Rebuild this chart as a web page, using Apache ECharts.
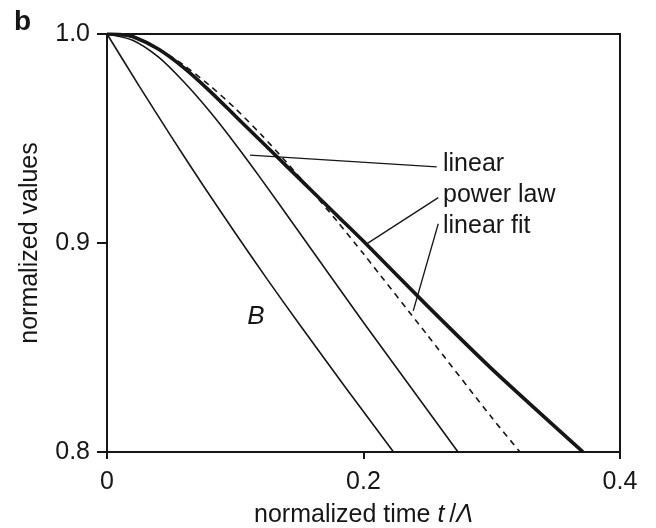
<!DOCTYPE html>
<html>
<head>
<meta charset="utf-8">
<script src="https://cdn.jsdelivr.net/npm/echarts@6/dist/echarts.min.js"></script>
<style>
  html, body { margin: 0; padding: 0; background: #fff; }
  #chart { width: 656px; height: 528px; }
</style>
</head>
<body>
<div id="chart"></div>
<script>
// normalized time t/Λ sample points and the normalized values of each curve
const tB       = [0, 0.025, 0.05, 0.075, 0.10, 0.125, 0.15, 0.1867, 0.2234];
const valsB    = [1.0, 0.9752, 0.951, 0.9275, 0.9048, 0.8826, 0.8611, 0.8303, 0.800];

const tLinear    = [0, 0.02, 0.04, 0.06, 0.08, 0.10, 0.12, 0.15, 0.20, 0.2737];
const valsLinear = [1.0, 0.997, 0.989, 0.977, 0.963, 0.9474, 0.9308, 0.905, 0.862, 0.800];

const tFit    = [0, 0.02, 0.04, 0.06, 0.08, 0.10, 0.12, 0.14, 0.16, 0.18, 0.20, 0.25, 0.30, 0.322];
const valsFit = [1.0, 0.9985, 0.993, 0.985, 0.9754, 0.9644, 0.952, 0.9386, 0.9246, 0.910, 0.8948, 0.8558, 0.8165, 0.800];

const tPower    = [0, 0.01, 0.02, 0.04, 0.06, 0.08, 0.10, 0.12, 0.14, 0.16, 0.18, 0.20, 0.25, 0.30, 0.3712];
const valsPower = [1.0, 0.9998, 0.9988, 0.9928, 0.9838, 0.9728, 0.9608, 0.9488, 0.9368, 0.9248, 0.9128, 0.9008, 0.8698, 0.8398, 0.800];

const xTicks = [0, 0.2, 0.4];
const yTicks = [0.8, 0.9, 1.0];

// curve annotations: label text, label anchor, leader line (data coordinates)
const annotations = [
  { text: 'linear',     at: [0.262, 0.9377], from: [0.2571, 0.9364], to: [0.1115, 0.9420] },
  { text: 'power law',  at: [0.262, 0.9228], from: [0.2583, 0.9217], to: [0.2025, 0.8996] },
  { text: 'linear fit', at: [0.262, 0.9079], from: [0.2583, 0.9092], to: [0.2388, 0.8676] }
];
const curveTag = { text: 'B', at: [0.1162, 0.8647] };

const INK = '#161616';
const FONT = '"Liberation Sans", Arial, Helvetica, sans-serif';

const zip = (xs, ys) => xs.map((x, i) => [x, ys[i]]);

const chart = echarts.init(document.getElementById('chart'), null, { renderer: 'canvas' });

const thin = { color: INK, width: 1.6, type: 'solid' };

chart.setOption({
  animation: false,
  backgroundColor: '#fff',
  title: {
    text: 'b', left: 9, top: 3,
    textStyle: { fontFamily: FONT, fontWeight: 'bold', fontSize: 28, color: INK }
  },
  grid: {
    left: 107, right: 36, top: 34, bottom: 76,
    containLabel: false, outerBoundsMode: 'none',
    show: true, borderColor: INK, borderWidth: 2, backgroundColor: 'transparent'
  },
  xAxis: {
    type: 'value', min: xTicks[0], max: xTicks[xTicks.length - 1], interval: 0.2,
    name: 'normalized time {i|t}\u2009/{i|Λ}',
    nameLocation: 'middle', nameGap: 51,
    nameTextStyle: {
      fontFamily: FONT, fontSize: 25, color: INK,
      rich: { i: { fontFamily: FONT, fontSize: 25, fontStyle: 'italic', color: INK } }
    },
    axisLine: { show: true, lineStyle: { color: INK, width: 2 } },
    axisTick: { show: true, inside: false, length: 7, lineStyle: { color: INK, width: 2 } },
    axisLabel: {
      margin: 18, fontFamily: FONT, fontSize: 25, color: INK,
      formatter: v => (v === 0 ? '0' : v.toFixed(1))
    },
    splitLine: { show: false }
  },
  yAxis: {
    type: 'value', min: yTicks[0], max: yTicks[yTicks.length - 1], interval: 0.1,
    name: 'normalized values',
    nameLocation: 'middle', nameGap: 64,
    nameTextStyle: { fontFamily: FONT, fontSize: 25, color: INK },
    axisLine: { show: true, lineStyle: { color: INK, width: 2 } },
    axisTick: { show: true, inside: false, length: 10, lineStyle: { color: INK, width: 2 } },
    axisLabel: {
      margin: 17, fontFamily: FONT, fontSize: 25, color: INK,
      formatter: v => v.toFixed(1)
    },
    splitLine: { show: false }
  },
  series: [
    { name: 'B', type: 'line', data: zip(tB, valsB), showSymbol: false,
      smooth: 0.25, lineStyle: thin },
    { name: 'linear', type: 'line', data: zip(tLinear, valsLinear), showSymbol: false,
      smooth: 0.25, lineStyle: thin },
    { name: 'linear fit', type: 'line', data: zip(tFit, valsFit), showSymbol: false,
      smooth: 0.25, lineStyle: { color: INK, width: 1.6, type: [6, 5] } },
    { name: 'power law', type: 'line', data: zip(tPower, valsPower), showSymbol: false,
      smooth: 0.25, lineStyle: { color: INK, width: 3.6, type: 'solid' } }
  ]
});

// labels and leader lines placed through the grid's coordinate system
const px = p => chart.convertToPixel({ gridIndex: 0 }, p);
const elements = [];
annotations.forEach(a => {
  const f = px(a.from), t = px(a.to), at = px(a.at);
  elements.push({
    type: 'line', silent: true,
    shape: { x1: f[0], y1: f[1], x2: t[0], y2: t[1] },
    style: { stroke: INK, lineWidth: 1.3 }
  });
  elements.push({
    type: 'text', silent: true, x: at[0], y: at[1],
    style: { text: a.text, font: '25px ' + FONT, fill: INK, textAlign: 'left', textVerticalAlign: 'middle' }
  });
});
const bt = px(curveTag.at);
elements.push({
  type: 'text', silent: true, x: bt[0], y: bt[1],
  style: { text: curveTag.text, font: 'italic 26px ' + FONT, fill: INK, textAlign: 'center', textVerticalAlign: 'middle' }
});
chart.setOption({ graphic: { elements } });
</script>
</body>
</html>
